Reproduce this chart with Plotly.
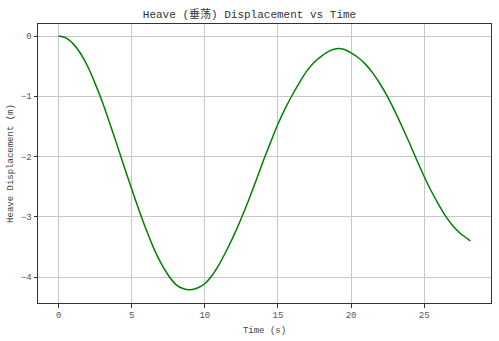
import plotly.graph_objects as go

# Data (every 0.5 s)
time_s = [0, 0.5, 1, 1.5, 2, 2.5, 3, 3.5, 4, 4.5, 5, 5.5, 6, 6.5, 7, 7.5, 8,
          8.5, 9, 9.5, 10, 10.5, 11, 11.5, 12, 12.5, 13, 13.5, 14, 14.5, 15,
          15.5, 16, 16.5, 17, 17.5, 18, 18.5, 19, 19.5, 20, 20.5, 21, 21.5,
          22, 22.5, 23, 23.5, 24, 24.5, 25, 25.5, 26, 26.5, 27, 27.5, 28, 28.16]
heave_m = [0.0, -0.03, -0.13, -0.29, -0.51, -0.79, -1.10, -1.45, -1.81, -2.18,
           -2.54, -2.89, -3.22, -3.52, -3.77, -3.97, -4.12, -4.19, -4.21, -4.18,
           -4.11, -3.97, -3.78, -3.55, -3.30, -3.02, -2.72, -2.40, -2.07, -1.76,
           -1.46, -1.20, -0.97, -0.76, -0.57, -0.43, -0.33, -0.25, -0.21, -0.22,
           -0.28, -0.36, -0.47, -0.62, -0.80, -1.01, -1.25, -1.51, -1.78, -2.06,
           -2.33, -2.58, -2.80, -3.00, -3.16, -3.28, -3.37, -3.40]

x_ticks = [0, 5, 10, 15, 20, 25]
y_ticks = [0, -1, -2, -3, -4]

FONT = "Liberation Mono, Noto Sans CJK SC, monospace"

fig = go.Figure()
fig.add_trace(go.Scatter(x=time_s, y=heave_m, mode="lines",
                         line=dict(color="#008000", width=1.5, shape="spline", smoothing=0.6),
                         showlegend=False))

axis_common = dict(showgrid=True, gridcolor="#c8c8c8", gridwidth=1,
                   showline=True, linecolor="#333333", linewidth=1, mirror=True,
                   ticks="outside", ticklen=3.5, tickwidth=1, tickcolor="#333333",
                   zeroline=False,
                   tickfont=dict(family=FONT, size=9, color="#555555"))

fig.update_layout(
    width=499, height=341,
    margin=dict(l=38, r=7, t=24, b=35),
    paper_bgcolor="white", plot_bgcolor="white",
    title=dict(text="Heave (垂荡) Displacement vs Time", x=0.5, xanchor="center",
               y=1 - 14 / 341, yanchor="middle",
               font=dict(family=FONT, size=11, color="#333333")),
    xaxis=dict(range=[-1.41, 29.57], tickvals=x_ticks,
               title=dict(text="Time (s)", standoff=6,
                          font=dict(family=FONT, size=9, color="#444444")),
               **axis_common),
    yaxis=dict(range=[-4.43, 0.2], tickvals=y_ticks,
               title=dict(text="Heave Displacement (m)", standoff=5,
                          font=dict(family=FONT, size=9, color="#444444")),
               **axis_common),
)

fig.write_html("out.html")
